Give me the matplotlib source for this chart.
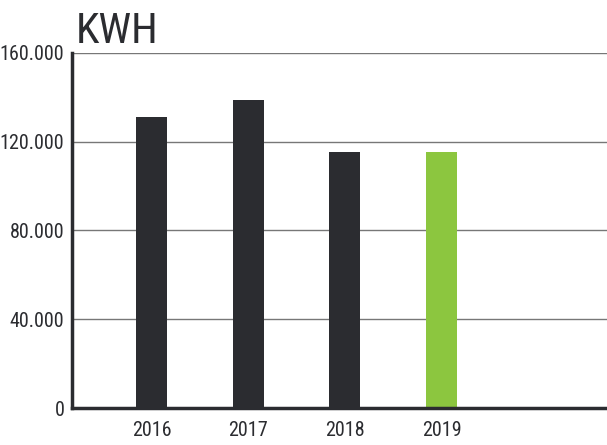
import matplotlib
matplotlib.use("Agg")
import matplotlib.pyplot as plt
from matplotlib import font_manager
from matplotlib.ticker import FuncFormatter

years = ["2016", "2017", "2018", "2019"]
kwh = [131000, 138700, 115200, 115200]
colors = ["#2b2c30", "#2b2c30", "#2b2c30", "#8cc63f"]
yticks = [0, 40000, 80000, 120000, 160000]
title = "KWH"

fl = font_manager.fontManager.ttflist
cands = [f for f in fl
         if ("ondensed" in f.fname or "Narrow" in f.fname or "ondensed" in f.name or "Narrow" in f.name)
         and "Bold" not in f.fname and "Italic" not in f.fname and "Oblique" not in f.fname
         and f.weight in (300, 400, "normal", "light", "regular")]
pref = ["Roboto", "Open Sans", "Liberation", "Noto", "DejaVu"]
chosen = None
for p in pref:
    for f in cands:
        if p in f.name or p.replace(" ", "") in f.fname:
            chosen = f.fname
            break
    if chosen:
        break

def FP(size):
    if chosen:
        return font_manager.FontProperties(fname=chosen, size=size)
    return font_manager.FontProperties(family="DejaVu Sans", stretch="condensed", size=size)

txt = "#2b2c30"
fig = plt.figure(figsize=(6.07, 4.45), dpi=100)
ax = fig.add_axes([72/607, 1-408/445, 1-72/607, (408-53)/445])

x = list(range(len(years)))
ax.bar(x, kwh, width=0.32, color=colors, zorder=3)
ax.set_xlim(-0.822, 4.71)
ax.set_ylim(0, 160000)
ax.set_yticks(yticks)
ax.yaxis.set_major_formatter(FuncFormatter(lambda v, p: f"{int(v):,}".replace(",", ".")))
ax.set_xticks(x)
ax.set_xticklabels(years)
ax.grid(axis="y", color="#777777", linewidth=1.0, zorder=0)
ax.tick_params(length=0, colors=txt)
ax.tick_params(axis="y", pad=5.5)
ax.tick_params(axis="x", pad=9)
for lab in ax.get_xticklabels() + ax.get_yticklabels():
    lab.set_fontproperties(FP(14.5))
for s in ["top", "right"]:
    ax.spines[s].set_visible(False)
for s in ["left", "bottom"]:
    ax.spines[s].set_color(txt)
    ax.spines[s].set_linewidth(2.5)
    ax.spines[s].set_zorder(4)

fig.text(76/607, 1-43/445, title, fontproperties=FP(31), color=txt, ha="left", va="baseline")

fig.savefig("out.png", dpi=100)
